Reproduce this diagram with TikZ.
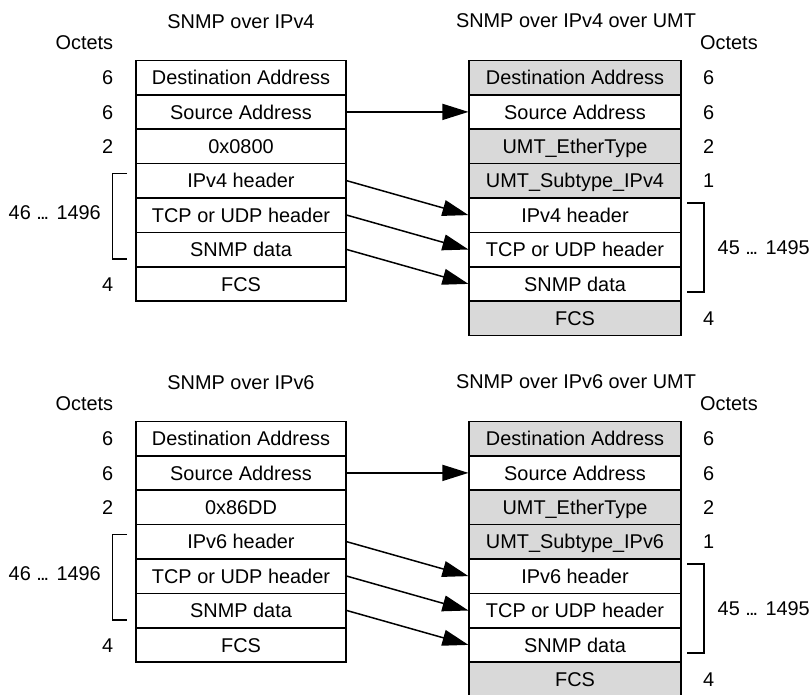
\documentclass[tikz,border=0pt]{standalone}
\usepackage{fontspec}
\setmainfont{Liberation Sans}
\usetikzlibrary{arrows.meta}
\definecolor{umtgray}{RGB}{217,217,217}
\newcommand\tightdots{.\kern-1.9pt.\kern-1.9pt.}
\tikzset{
  lbl/.style={inner sep=0pt, text height=14.2pt, text depth=0pt, font=\fontsize{19.9}{24}\selectfont},
  field/.style={draw, line width=1.6pt, minimum height=34.4pt, inner sep=0pt,
    text height=14.2pt, text depth=0pt, font=\fontsize{19.9}{24}\selectfont},
  lfield/.style={field, minimum width=210pt},
  rfield/.style={field, minimum width=211.5pt, fill=white},
  umt/.style={rfield, fill=umtgray},
  conn/.style={line width=1.5pt, -{Triangle[length=26pt,width=16pt]}},
  brk/.style={line width=1.3pt}
}
\newcommand\snmpsection[3]{%
  % titles
  \node[lbl] (tL#1) at (241,21.7) {SNMP over IPv#2};
  \node[lbl] (tR#1) at (576,20.5) {SNMP over IPv#2 over UMT};
  \node[lbl,anchor=east] (oL#1) at (113.3,42) {Octets};
  \node[lbl,anchor=west] (oR#1) at (700,42) {Octets};
  % left frame
  \node[lfield] (L1#1) at (241,77.5) {Destination Address};
  \node[lfield] (L2#1) at (241,111.9) {Source Address};
  \node[lfield] (L3#1) at (241,146.3) {#3};
  \node[lfield] (L4#1) at (241,180.7) {IPv#2 header};
  \node[lfield] (L5#1) at (241,215.1) {TCP or UDP header};
  \node[lfield] (L6#1) at (241,249.5) {SNMP data};
  \node[lfield] (L7#1) at (241,283.9) {FCS};
  \node[lbl,anchor=east] (nL1#1) at (113.3,77.5) {6};
  \node[lbl,anchor=east] (nL2#1) at (113.3,111.9) {6};
  \node[lbl,anchor=east] (nL3#1) at (113.3,146.3) {2};
  \node[lbl,anchor=east] (nL7#1) at (113.3,283.9) {4};
  \node[lbl,anchor=east] (sL#1) at (101,212.8) {46 \tightdots{} 1496};
  \draw[brk] (127,173.7) -- (112.3,173.7) -- (112.3,259) -- (127,259);
  % right frame
  \node[umt] (R1#1) at (575,77.5) {Destination Address};
  \node[rfield] (R2#1) at (575,111.9) {Source Address};
  \node[umt] (R3#1) at (575,146.3) {UMT\_EtherType};
  \node[umt] (R4#1) at (575,180.7) {UMT\_Subtype\_IPv#2};
  \node[rfield] (R5#1) at (575,215.1) {IPv#2 header};
  \node[rfield] (R6#1) at (575,249.5) {TCP or UDP header};
  \node[rfield] (R7#1) at (575,283.9) {SNMP data};
  \node[umt] (R8#1) at (575,318.3) {FCS};
  \node[lbl,anchor=west] (nR1#1) at (703,77.5) {6};
  \node[lbl,anchor=west] (nR2#1) at (703,111.9) {6};
  \node[lbl,anchor=west] (nR3#1) at (703,146.3) {2};
  \node[lbl,anchor=west] (nR4#1) at (703,180.7) {1};
  \node[lbl,anchor=west] (nR8#1) at (703,318.3) {4};
  \node[lbl,anchor=west] (sR#1) at (717.5,247.8) {45 \tightdots{} 1495};
  \draw[brk] (687,203) -- (704,203) -- (704,292) -- (687,292);
  % connectors
  \draw[conn] (L2#1.east) -- (R2#1.west);
  \draw[conn] (L4#1.east) -- (R5#1.west);
  \draw[conn] (L5#1.east) -- (R6#1.west);
  \draw[conn] (L6#1.east) -- (R7#1.west);
}
\begin{document}
\begin{tikzpicture}[x=1pt,y=-1pt]
  \useasboundingbox (0,0) rectangle (809,694);
  \fill[white] (0,0) rectangle (809,694);
  \snmpsection{a}{4}{0x0800}
  \begin{scope}[yshift=-361pt]
    \snmpsection{b}{6}{0x86DD}
  \end{scope}
\end{tikzpicture}
\end{document}
